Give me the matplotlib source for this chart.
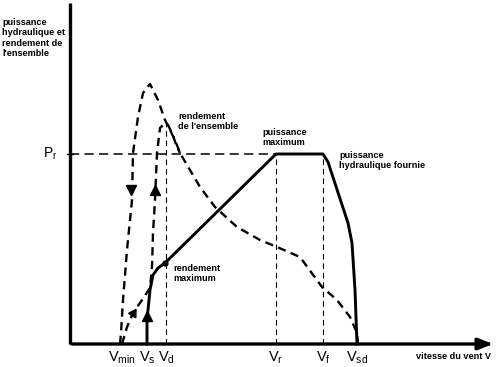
import matplotlib.pyplot as plt

# wind speed marks on the x axis (same units as the curves)
v_names = [r'V$_{\rm min}$', r'V$_{\rm s}$', r'V$_{\rm d}$', r'V$_{\rm r}$', r'V$_{\rm f}$', r'V$_{\rm sd}$']
v_marks = [52, 77, 96, 206, 253, 287]
p_rated = 190

# solid curve : puissance hydraulique fournie
power_v = [77, 77, 80, 83, 88, 95, 206, 253, 258, 278, 282, 285, 287]
power_p = [0, 24, 54, 69, 76, 81, 190, 190, 182, 121, 101, 54, 0]

# dashed curve going up to the high peak then down to Vsd
eta_a_v = [50, 51, 53, 57, 62, 63, 68, 73, 80, 88, 95, 105, 110, 120, 130, 145,
           167, 190, 207, 230, 252, 267, 280, 287, 288]
eta_a_p = [0, 11, 44, 94, 144, 191, 227, 251, 260, 244, 224, 204, 191, 174, 157, 137,
           117, 104, 97, 87, 57, 44, 27, 11, 0]

# dashed curve from Vmin over rendement maximum to the lower peak
eta_b_v = [52, 57, 63, 72, 80, 82, 83, 85, 87, 90, 95, 98, 102, 107, 110]
eta_b_p = [0, 17, 31, 44, 56, 77, 111, 144, 191, 216, 221, 219, 211, 197, 191]

plt.rcParams['font.family'] = ['Liberation Sans', 'DejaVu Sans']
plt.rcParams['mathtext.fontset'] = 'custom'
plt.rcParams['mathtext.rm'] = 'Liberation Sans'

fig = plt.figure(figsize=(5, 3.67), dpi=100)
ax = fig.add_axes([0, 0, 1, 1])
ax.set_xlim(-70, 430)
ax.set_ylim(-23, 344)
ax.axis('off')

# axes
ax.plot([0, 0], [0, 341], color='k', lw=2.4, solid_capstyle='butt')
ax.annotate('', xy=(426, 0), xytext=(-1, 0),
            arrowprops=dict(arrowstyle='-|>,head_length=0.9,head_width=0.35', color='k', lw=2.4))

# guide lines
ax.plot([0, v_marks[3]], [p_rated, p_rated], color='k', lw=1.1, dashes=(6, 3.5))
ax.plot([v_marks[2], v_marks[2]], [0, 221], color='k', lw=0.8, dashes=(5, 3.5))
for v in v_marks[3:5]:
    ax.plot([v, v], [0, p_rated], color='k', lw=0.8, dashes=(5, 3.5))
ax.plot([-3, 3], [p_rated, p_rated], color='k', lw=1)

# curves
ax.plot(eta_a_v, eta_a_p, color='k', lw=1.7, dashes=(3.5, 2.3))
ax.plot(eta_b_v, eta_b_p, color='k', lw=1.7, dashes=(3.5, 2.3))
ax.plot(power_v, power_p, color='k', lw=2.1, solid_joinstyle='round')
ax.plot(95, 81, 'o', color='k', ms=3.5)

# direction arrows
ax.plot(61, 154, marker='v', color='k', ms=7)
ax.plot(85, 154, marker='^', color='k', ms=7)
ax.plot(77, 28, marker='^', color='k', ms=7)
ax.plot(63, 31, marker=(3, 0, -32), color='k', ms=7)

# tick labels
for name, v in zip(v_names, v_marks):
    ax.text(v, -5, name, ha='center', va='top', fontsize=10.5)
ax.text(-13, p_rated, r'P$_{\rm r}$', ha='right', va='center', fontsize=10)

bold = dict(fontsize=6.6, fontweight='bold', va='top', ha='left', linespacing=1.2)
ax.text(-68, 326, "puissance\nhydraulique et\nrendement de\nl'ensemble", **bold)
ax.text(108, 232, "rendement\nde l'ensemble", **bold)
ax.text(192, 216, "puissance\nmaximum", **bold)
ax.text(269, 193, "puissance\nhydraulique fournie", **bold)
ax.text(103, 80, "rendement\nmaximum", **bold)
ax.text(346, -8, "vitesse du vent V", **bold)

fig.savefig('out.png', dpi=100)
